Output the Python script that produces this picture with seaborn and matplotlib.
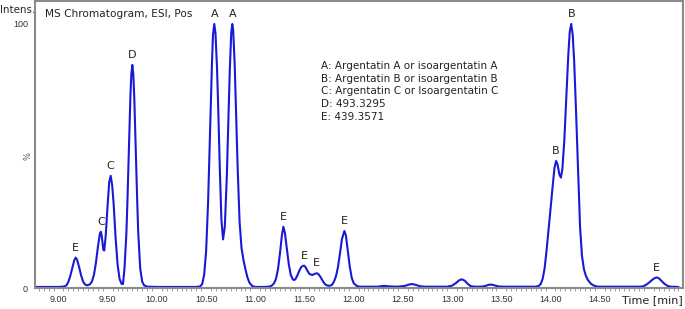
import numpy as np
import pandas as pd
import matplotlib
matplotlib.use("Agg")
import matplotlib.pyplot as plt
import matplotlib.ticker as mticker
import seaborn as sns

# ============================================================
# DATA
# ============================================================
time_min = [
    8.76, 8.90, 9.00, 9.04,
    9.06, 9.08, 9.10, 9.12, 9.14, 9.16, 9.175, 9.19, 9.21, 9.23, 9.25, 9.27, 9.29, 9.30,
    9.32, 9.34, 9.36, 9.38, 9.40, 9.42, 9.43, 9.44, 9.455, 9.465, 9.48, 9.50, 9.515, 9.53,
    9.545, 9.56, 9.58, 9.60, 9.62, 9.64, 9.655,
    9.67, 9.69, 9.70, 9.71, 9.72, 9.73, 9.74, 9.75, 9.76, 9.77, 9.78, 9.79, 9.80, 9.81,
    9.83, 9.85, 9.87, 9.90,
    10.00, 10.20, 10.40, 10.44,
    10.46, 10.48, 10.50, 10.52, 10.54, 10.55, 10.56, 10.57, 10.583, 10.595, 10.61, 10.62,
    10.64, 10.655, 10.672,
    10.69, 10.71, 10.73, 10.74, 10.755, 10.766, 10.775, 10.79, 10.80, 10.82, 10.84, 10.86,
    10.88, 10.90, 10.92, 10.94, 10.97, 11.00, 11.10,
    11.15, 11.17, 11.19, 11.21, 11.23, 11.25, 11.27, 11.285, 11.30, 11.32, 11.34, 11.36,
    11.38, 11.396, 11.41, 11.43, 11.45, 11.47, 11.495, 11.51, 11.53, 11.55, 11.58, 11.60,
    11.624, 11.64, 11.66, 11.68, 11.70, 11.72, 11.75, 11.78, 11.80, 11.82, 11.84, 11.86,
    11.88, 11.905, 11.92, 11.94, 11.96, 11.98, 12.00, 12.03, 12.06,
    12.25, 12.28, 12.32, 12.36, 12.45, 12.52, 12.56, 12.59, 12.63, 12.67, 12.72,
    12.95, 13.00, 13.04, 13.07, 13.10, 13.13, 13.16, 13.19, 13.23,
    13.30, 13.34, 13.37, 13.40, 13.43, 13.47, 13.52, 13.85,
    13.88, 13.90, 13.92, 13.94, 13.96, 13.98, 14.00, 14.02, 14.04, 14.056, 14.07, 14.09,
    14.105, 14.12, 14.14, 14.16, 14.18, 14.195, 14.21, 14.225, 14.24, 14.26, 14.28, 14.30,
    14.32, 14.34, 14.36, 14.38, 14.41, 14.44, 14.48,
    14.90, 14.94, 14.97, 15.00, 15.03, 15.06, 15.08, 15.10, 15.13, 15.16, 15.19, 15.22, 15.30,
]
intensity_pct = [
    0.4, 0.4, 0.4, 0.5,
    0.6, 1.0, 2.3, 4.6, 7.6, 10.5, 11.5, 10.6, 7.8, 4.7, 2.4, 1.3, 1.0, 1.1,
    1.4, 2.5, 5.0, 9.5, 15.5, 20.5, 21.3, 19.5, 14.5, 14.2, 20.0, 32.0, 40.0, 42.5,
    39.0, 32.0, 19.0, 9.0, 3.5, 1.6, 1.5,
    7.2, 21.0, 32.5, 45.6, 59.5, 72.0, 81.0, 84.5, 81.0, 72.0, 59.5, 45.6, 32.5, 21.0,
    7.5, 2.4, 1.0, 0.5,
    0.4, 0.4, 0.4, 0.6,
    1.5, 5.0, 14.0, 32.5, 59.0, 73.0, 86.0, 96.0, 100.0, 96.5, 84.0, 72.0,
    44.0, 26.0, 18.4,
    23.3, 42.0, 69.0, 82.0, 96.5, 100.0, 97.5, 85.0, 72.0, 46.0, 25.0, 15.0,
    10.5, 7.0, 4.0, 2.0, 0.7, 0.4, 0.4,
    0.6, 1.0, 1.8, 3.5, 7.0, 13.0, 20.0, 23.2, 21.0, 15.0, 9.0, 5.0,
    3.3, 3.0, 3.5, 5.0, 6.8, 8.1, 8.5, 7.9, 6.5, 5.3, 4.9, 5.3,
    5.6, 5.3, 4.3, 3.0, 1.8, 1.1, 0.8, 1.2, 2.5, 4.5, 8.0, 13.0,
    18.5, 21.6, 20.0, 14.0, 8.0, 3.8, 1.8, 0.8, 0.5,
    0.5, 0.7, 0.8, 0.6, 0.5, 0.8, 1.3, 1.5, 1.2, 0.7, 0.5,
    0.5, 0.9, 1.9, 2.9, 3.3, 2.7, 1.5, 0.7, 0.5,
    0.5, 0.8, 1.2, 1.3, 1.0, 0.6, 0.5, 0.5,
    0.8, 1.5, 3.5, 7.5, 14.4, 22.0, 30.0, 38.0, 45.5, 48.1, 47.0, 43.0,
    41.8, 45.0, 56.0, 72.0, 88.0, 97.0, 100.0, 96.0, 86.0, 66.0, 44.0, 23.0,
    12.0, 7.0, 4.5, 3.0, 1.6, 0.9, 0.5,
    0.5, 0.6, 1.2, 2.0, 3.0, 3.8, 4.0, 3.7, 2.6, 1.5, 0.8, 0.5, 0.4,
]

peak_times = [9.175, 9.43, 9.53, 9.75, 10.583, 10.766, 11.285, 11.495, 11.624, 11.905, 14.056, 14.21, 15.08]
peak_heights = [11.5, 21.3, 42.5, 84.5, 100.0, 100.0, 23.2, 8.5, 5.6, 21.6, 48.1, 100.0, 4.0]
peak_letters = ["E", "C", "C", "D", "A", "A", "E", "E", "E", "E", "B", "B", "E"]

legend_lines = [
    "A: Argentatin A or isoargentatin A",
    "B: Argentatin B or isoargentatin B",
    "C: Argentatin C or Isoargentatin C",
    "D: 493.3295",
    "E: 439.3571",
]

df = pd.DataFrame({"time": time_min, "intensity": intensity_pct})

# ============================================================
# STYLE
# ============================================================
sns.set_style("white")
plt.rcParams["font.family"] = ["DejaVu Sans"]

AXIS_GREY = "#8a8a8a"
LINE_BLUE = "#1a1ad6"
TEXT = "#222222"

fig = plt.figure(figsize=(6.85, 3.09), dpi=100)
ax = fig.add_axes([35 / 685, 21 / 309, 648 / 685, 287 / 309])

sns.lineplot(data=df, x="time", y="intensity", ax=ax, color=LINE_BLUE,
             linewidth=1.5, estimator=None, sort=False)

ax.set_xlim(8.761, 15.346)
ax.set_ylim(0, 108.7)
ax.set_xlabel("")
ax.set_ylabel("")

for s in ax.spines.values():
    s.set_color(AXIS_GREY)
    s.set_linewidth(1.5)

ax.xaxis.set_major_locator(mticker.FixedLocator(np.arange(9.0, 15.01, 0.5)))
ax.xaxis.set_minor_locator(mticker.MultipleLocator(0.05))
ax.xaxis.set_major_formatter(mticker.FuncFormatter(lambda v, _: "" if v > 14.9 else f"{v:.2f}"))
ax.yaxis.set_major_locator(mticker.MultipleLocator(10))
ax.yaxis.set_major_formatter(mticker.FuncFormatter(lambda v, _: f"{v:.0f}" if round(v) in (0, 100) else ""))

ax.tick_params(axis="both", which="both", direction="out", color=AXIS_GREY,
               labelcolor="#333333", labelsize=6.5, pad=1.5,
               labelfontfamily="Liberation Sans")
ax.tick_params(axis="both", which="major", length=3.5, width=0.8)
ax.tick_params(axis="x", which="minor", length=2.5, width=0.6, bottom=True)

# peak letters
for t, h, lab in zip(peak_times, peak_heights, peak_letters):
    ax.annotate(lab, xy=(t, h), xytext=(0, 3.5), textcoords="offset points",
                ha="center", va="bottom", fontsize=8, color=TEXT)

ax.text(0.0155, 0.955, "MS Chromatogram, ESI, Pos", transform=ax.transAxes,
        ha="left", va="center", fontsize=7.6, color=TEXT)
ax.text(0.441, 0.792, "\n".join(legend_lines), transform=ax.transAxes,
        ha="left", va="top", fontsize=7.5, linespacing=1.36, color=TEXT)

fig.text(0.0, 1 - 10 / 309, "Intens.", ha="left", va="center", fontsize=7.4, color=TEXT)
fig.text(28 / 685, 1 - 156 / 309, "%", ha="center", va="center", fontsize=6,
         rotation=90, color="#555555")
fig.text(683 / 685, 1 - 300 / 309, "Time [min]", ha="right", va="center",
         fontsize=8, color=TEXT)

fig.savefig("out.png", dpi=100)
